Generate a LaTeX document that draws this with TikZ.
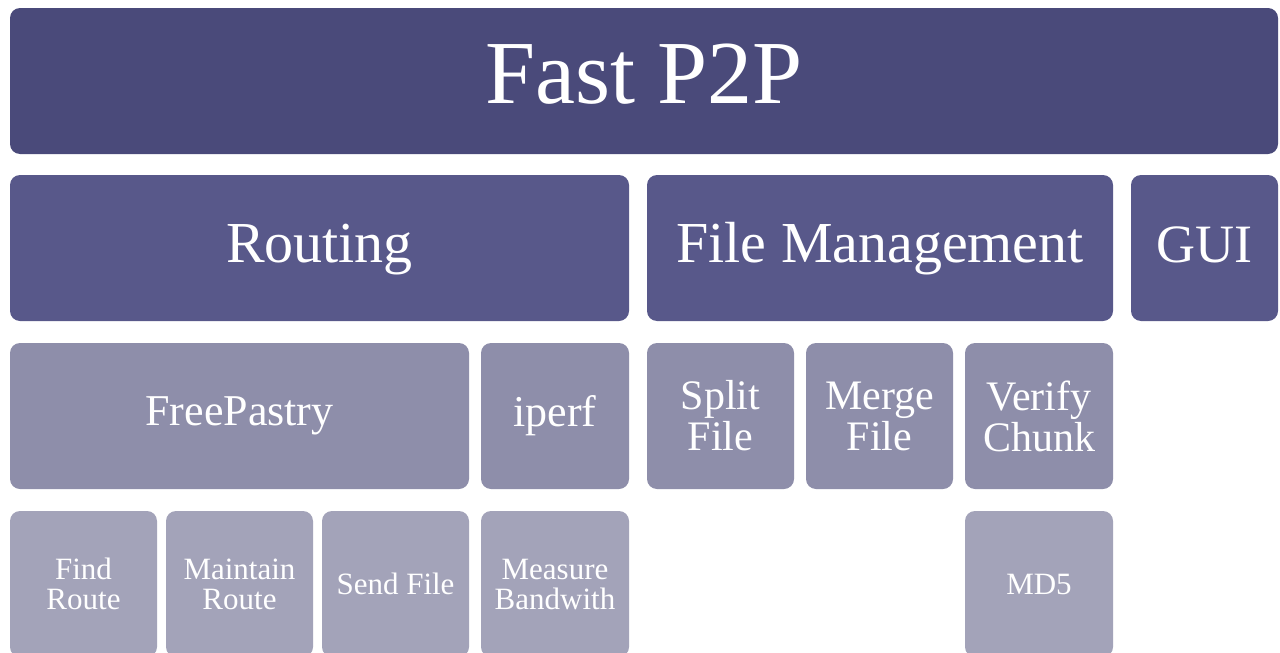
\documentclass[tikz,border=0pt]{standalone}
\usepackage{fontspec}
\setmainfont{Liberation Serif}
\definecolor{topblue}{HTML}{4A4A7A}
\definecolor{midblue}{HTML}{58588A}
\definecolor{lowblue}{HTML}{8E8EAA}
\definecolor{leafblue}{HTML}{A3A3B9}
\newcommand*{\pgw   }{1280}
\newcommand*{\pgh   }{653}
\newcommand*{\rowht }{146pt}
\newcommand*{\cellw }{147pt}

\begin{document}
\begin{tikzpicture}[x=1pt, y=-1pt,
    box/.style  = {rectangle, rounded corners=10pt, text=white, inner sep=0pt, align=center, minimum height=\rowht},
    layer/.style= {box, fill=topblue, text height=63pt, text depth=18pt, font=\fontsize{90}{90}\selectfont},
    part/.style = {box, fill=midblue, text height=41pt, text depth=12pt, font=\fontsize{58}{58}\selectfont},
    tool/.style = {box, fill=lowblue,  font=\fontsize{42}{41}\selectfont},
    task/.style = {box, fill=leafblue, font=\fontsize{31}{30}\selectfont, minimum width=\cellw}]
    \clip (0,0) rectangle (\pgw,\pgh);
    \fill [white] (0,0) rectangle (\pgw,\pgh);
    % top
    \node [layer, minimum width=1268pt] (fastp) at (644,81) {Fast P2P};
    % components
    \node [part, minimum width=619pt] (routing) at (319.5,248) {Routing};
    \node [part, minimum width=466pt] (filemgmt) at (880,248) {File Management};
    \node [part, minimum width=\cellw, font=\fontsize{54}{54}\selectfont] (gui) at (1204.5,248) {GUI};
    % libraries and operations
    \node [tool, minimum width=459pt, font=\fontsize{44}{41}\selectfont] (pastry) at (239.5,416) {FreePastry};
    \node [tool, minimum width=148pt, font=\fontsize{44}{41}\selectfont] (iperf) at (555,416) {iperf};
    \node [tool, minimum width=\cellw] (split) at (720.5,416) {Split\\File};
    \node [tool, minimum width=\cellw] (merge) at (879.5,416) {Merge\\File};
    \node [tool, minimum width=148pt] (verify) at (1039,416) {Verify\\Chunk};
    % tasks
    \node [task] (findroute) at (83.5,584) {Find\\Route};
    \node [task] (keeproute) at (239.5,584) {Maintain\\Route};
    \node [task] (sendfile) at (395.5,584) {Send File};
    \node [task, minimum width=148pt] (bandwidth) at (555,584) {Measure\\Bandwith};
    \node [task, minimum width=148pt] (md5) at (1039,584) {MD5};
\end{tikzpicture}
\end{document}
